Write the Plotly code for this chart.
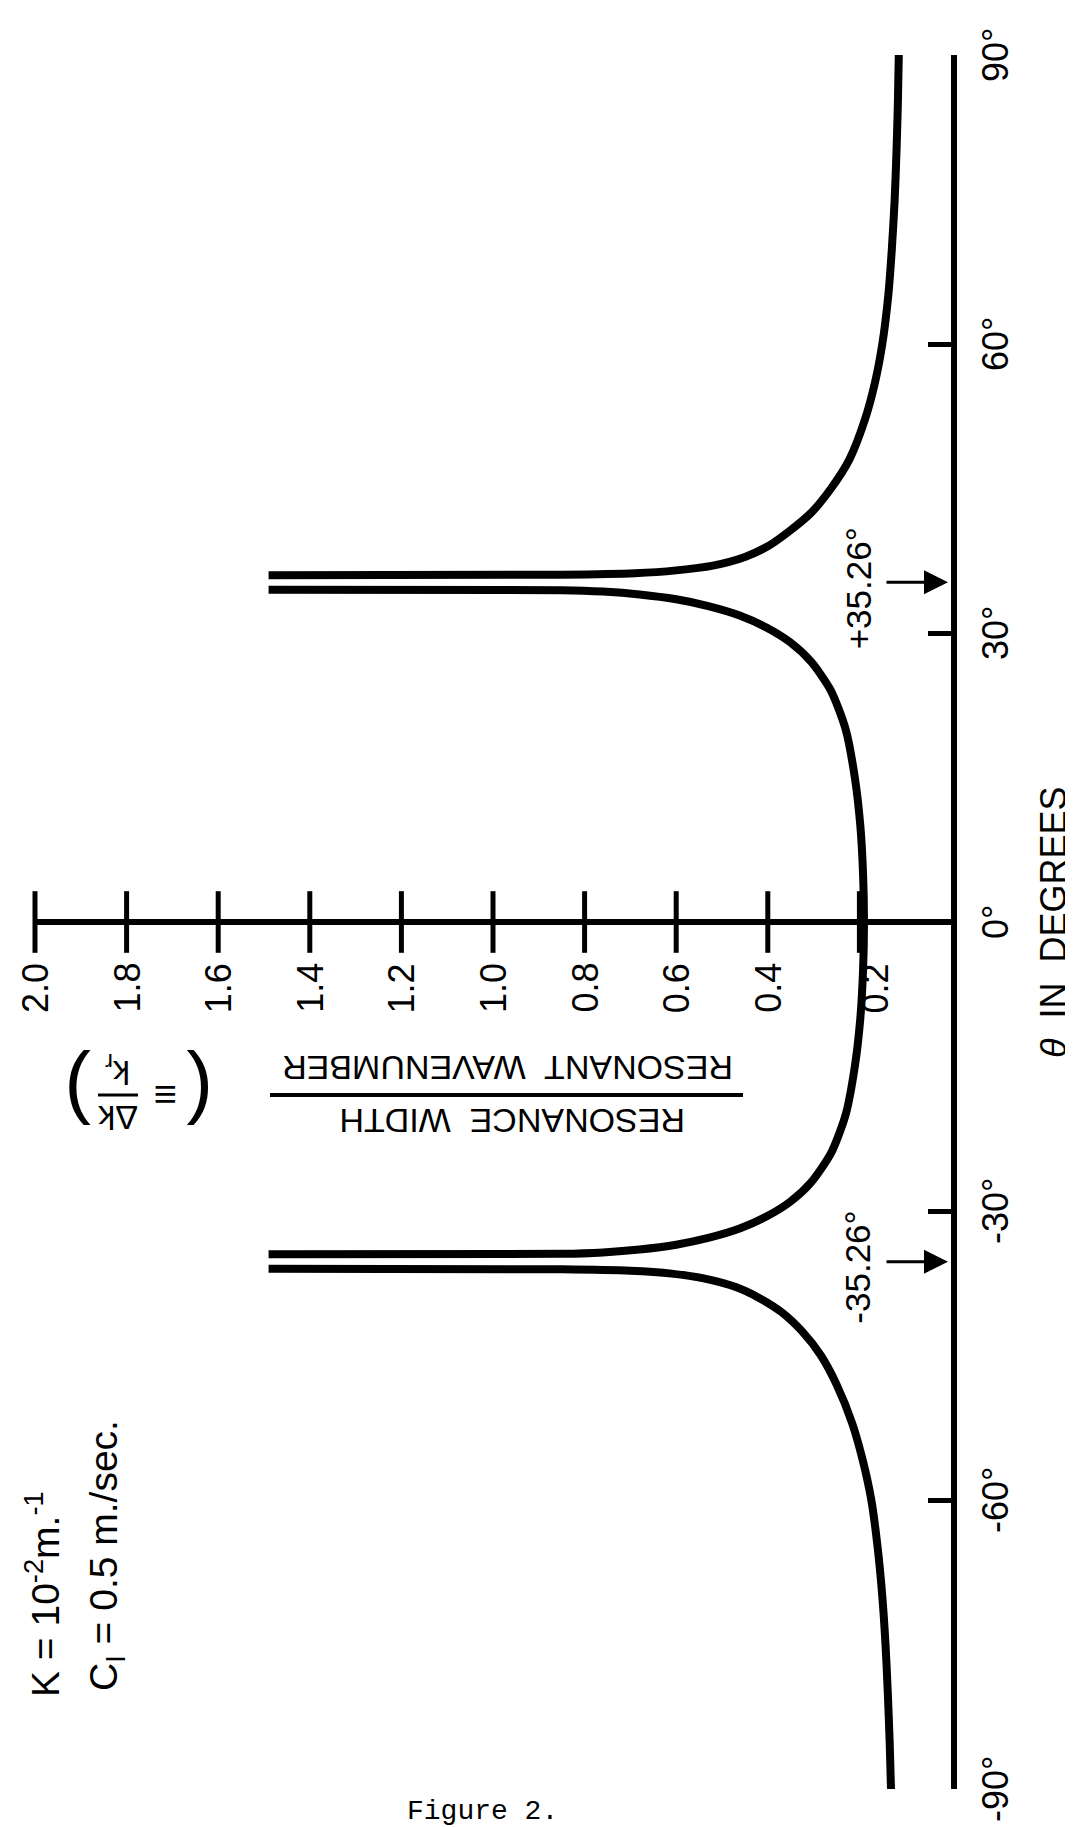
import plotly.graph_objects as go

# ---------------- data ----------------
# theta in degrees, resonance width (Δk/k_r), one list pair per branch of the curve
theta_left = [-90, -85, -80, -75, -70, -65, -60, -56, -52, -48, -45, -42.5, -40.5, -39,
              -37.9, -37, -36.5, -36.2, -36.05, -36.0]
width_left = [0.131, 0.134, 0.138, 0.143, 0.150, 0.160, 0.174, 0.192, 0.216, 0.250, 0.284, 0.325,
              0.37, 0.42, 0.47, 0.54, 0.61, 0.70, 0.85, 1.49]

theta_mid = [-34.5, -34.45, -34.3, -34.0, -33.5, -32.8, -31.8, -30.5, -29, -27, -24, -20, -15,
             -10, -5, 0, 5, 10, 15, 20, 24, 27, 29, 30.5, 31.8, 32.8, 33.5, 34.0, 34.3, 34.45, 34.5]
width_mid = [1.49, 0.85, 0.76, 0.68, 0.60, 0.53, 0.46, 0.40, 0.35, 0.305, 0.262, 0.23, 0.21,
             0.198, 0.192, 0.19, 0.192, 0.198, 0.21, 0.23, 0.262, 0.305, 0.35, 0.40, 0.46, 0.53,
             0.60, 0.68, 0.76, 0.85, 1.49]

theta_right = [36.0, 36.05, 36.2, 36.5, 37, 37.9, 39, 40.5, 42.5, 45, 48, 52, 56, 60, 65, 70,
               75, 80, 85, 90]
width_right = [1.49, 0.85, 0.69, 0.60, 0.52, 0.45, 0.40, 0.355, 0.305, 0.262, 0.222, 0.189, 0.166,
               0.150, 0.137, 0.129, 0.123, 0.119, 0.116, 0.114]

width_ticks = [0.2, 0.4, 0.6, 0.8, 1.0, 1.2, 1.4, 1.6, 1.8, 2.0]
width_tick_labels = ["0.2", "0.4", "0.6", "0.8", "1.0", "1.2", "1.4", "1.6", "1.8", "2.0"]

theta_ticks = [-90, -60, -30, 0, 30, 60, 90]
theta_tick_labels = ["-90°", "-60°", "-30°", "0°", "30°", "60°", "90°"]

resonance_angles = [35.26, -35.26]
resonance_labels = ["+35.26°", "-35.26°"]

# ---------------- layout helpers ----------------
W, H = 1073, 1827
ML, MR, MT, MB = 0, 130, 47, 46
PW, PH = W - ML - MR, H - MT - MB
FONT = "Liberation Sans"
BLACK = "#000000"


def px(x):
    return (x - ML) / PW


def py(y):
    return (H - MB - y) / PH


fig = go.Figure()

line_style = dict(color=BLACK, width=8, shape="spline", smoothing=0.7)
for th, wd in [(theta_left, width_left), (theta_mid, width_mid), (theta_right, width_right)]:
    fig.add_trace(go.Scatter(x=wd, y=th, mode="lines", line=line_style,
                             hoverinfo="skip", showlegend=False, cliponaxis=False))

# horizontal (width) axis drawn at theta = 0, from 0 to the last tick
fig.add_trace(go.Scatter(x=[0, max(width_ticks)], y=[0, 0], mode="lines",
                         line=dict(color=BLACK, width=6), hoverinfo="skip",
                         showlegend=False, cliponaxis=False))
# crossing tick marks
fig.add_trace(go.Scatter(x=width_ticks, y=[0] * len(width_ticks), mode="markers",
                         marker=dict(symbol="line-ns", size=44,
                                     line=dict(color=BLACK, width=5)),
                         hoverinfo="skip", showlegend=False, cliponaxis=False))

annotations = []
tick_font = dict(family=FONT, size=36, color=BLACK)

for v, lab in zip(width_ticks, width_tick_labels):
    annotations.append(dict(x=v, y=0, xref="x", yref="y", text=lab, showarrow=False,
                            textangle=-90, xanchor="center", yanchor="middle",
                            yshift=-66, xshift=16 if v == 0.2 else 0, font=tick_font))

for t, lab in zip(theta_ticks, theta_tick_labels):
    annotations.append(dict(x=0, y=t, xref="x", yref="y", text=lab, showarrow=False,
                            textangle=-90, xanchor="center", yanchor="middle",
                            xshift=44, font=tick_font))

for t, lab in zip(resonance_angles, resonance_labels):
    annotations.append(dict(x=0, y=t, xref="x", yref="y", text="", showarrow=True,
                            ax=-66, ay=0, arrowhead=2, arrowsize=1.6, arrowwidth=3,
                            arrowcolor=BLACK, standoff=3))
    annotations.append(dict(x=0, y=t, xref="x", yref="y", text=lab, showarrow=False,
                            textangle=-90, xanchor="center", yanchor="middle",
                            xshift=-93, yshift=-6, font=dict(family=FONT, size=35, color=BLACK)))

# axis title for theta
annotations.append(dict(x=px(1045), y=py(914), xref="paper", yref="paper",
                        text="<i>θ</i>  IN  DEGREES", showarrow=False, textangle=-90,
                        xanchor="center", yanchor="middle",
                        font=dict(family=FONT, size=36, color=BLACK)))

# width axis title (upside down)
title_font = dict(family=FONT, size=34, color=BLACK)
annotations.append(dict(x=px(500), y=py(1060), xref="paper", yref="paper",
                        text="RESONANT  WAVENUMBER", showarrow=False, textangle=180,
                        xanchor="center", yanchor="middle", font=title_font))
annotations.append(dict(x=px(504), y=py(1113), xref="paper", yref="paper",
                        text="RESONANCE  WIDTH", showarrow=False, textangle=180,
                        xanchor="center", yanchor="middle", font=title_font))

# (≡ Δk / k_r), upside down
annotations.append(dict(x=px(70), y=py(1087), xref="paper", yref="paper", text=")",
                        showarrow=False, textangle=180, xanchor="center", yanchor="middle",
                        font=dict(family=FONT, size=80, color=BLACK)))
annotations.append(dict(x=px(110), y=py(1063), xref="paper", yref="paper",
                        text="k<sub>r</sub>", showarrow=False, textangle=180,
                        xanchor="center", yanchor="middle", font=title_font))
annotations.append(dict(x=px(110), y=py(1110), xref="paper", yref="paper",
                        text="Δk", showarrow=False, textangle=180,
                        xanchor="center", yanchor="middle", font=title_font))
annotations.append(dict(x=px(158), y=py(1087), xref="paper", yref="paper", text="≡",
                        showarrow=False, textangle=180, xanchor="center", yanchor="middle",
                        font=dict(family=FONT, size=40, color=BLACK)))
annotations.append(dict(x=px(192), y=py(1087), xref="paper", yref="paper", text="(",
                        showarrow=False, textangle=180, xanchor="center", yanchor="middle",
                        font=dict(family=FONT, size=80, color=BLACK)))

# parameters (lower left)
param_font = dict(family=FONT, size=39, color=BLACK)
annotations.append(dict(x=px(34), y=py(1586), xref="paper", yref="paper",
                        text="K = 10<sup>-2</sup>m.<sup>-1</sup>", showarrow=False,
                        textangle=-90, xanchor="center", yanchor="middle", font=param_font))
annotations.append(dict(x=px(98), y=py(1548), xref="paper", yref="paper",
                        text="C<sub>I</sub> = 0.5 m./sec.", showarrow=False,
                        textangle=-90, xanchor="center", yanchor="middle", font=param_font))

# caption
annotations.append(dict(x=px(474), y=py(1803), xref="paper", yref="paper",
                        text="Figure 2.", showarrow=False, xanchor="center", yanchor="middle",
                        font=dict(family="Liberation Mono", size=28, color=BLACK)))

shapes = [
    dict(type="line", xref="paper", yref="paper", x0=px(262), x1=px(735),
         y0=py(1087), y1=py(1087), line=dict(color=BLACK, width=4)),
    dict(type="line", xref="paper", yref="paper", x0=px(90), x1=px(130),
         y0=py(1087), y1=py(1087), line=dict(color=BLACK, width=3)),
]

fig.update_layout(
    width=W, height=H, autosize=False,
    margin=dict(l=ML, r=MR, t=MT, b=MB, pad=0),
    paper_bgcolor="white", plot_bgcolor="white",
    showlegend=False,
    annotations=annotations,
    shapes=shapes,
    xaxis=dict(range=[(PW) / 458.0, 0], visible=False, showgrid=False, zeroline=False),
    yaxis=dict(range=[-90, 90], side="right", showline=True, linewidth=6, linecolor=BLACK,
               ticks="inside", ticklen=23, tickwidth=5, tickcolor=BLACK,
               tickvals=theta_ticks, showticklabels=False, showgrid=False, zeroline=False),
)

fig.write_html("out.html")
